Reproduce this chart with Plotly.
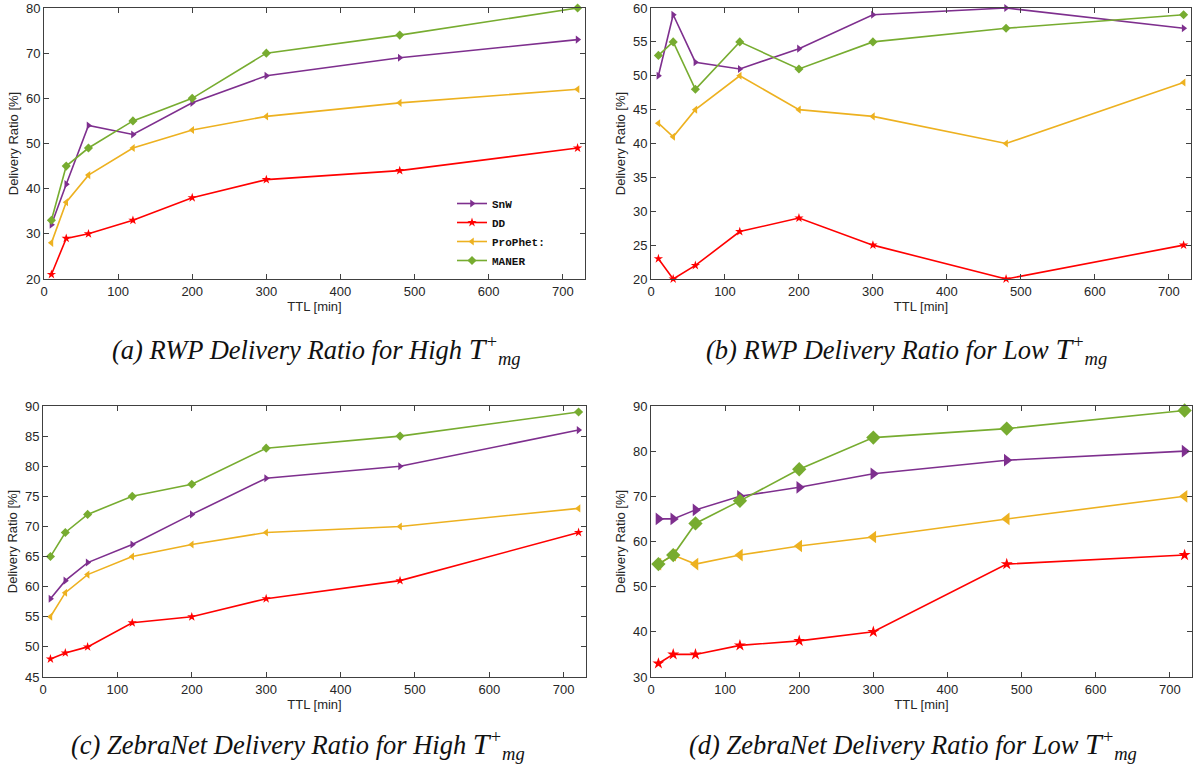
import plotly.graph_objects as go

W, H = 1196, 764
TTL = [10, 30, 60, 120, 200, 300, 480, 720]
SERIES = ["SnW", "DD", "ProPhet:", "MANER"]

# (a) RWP high
a_snw = [32, 41, 54, 52, 59, 65, 69, 73]
a_dd = [21, 29, 30, 33, 38, 42, 44, 49]
a_pro = [28, 37, 43, 49, 53, 56, 59, 62]
a_maner = [33, 45, 49, 55, 60, 70, 74, 80]
# (b) RWP low
b_snw = [50, 59, 52, 51, 54, 59, 60, 57]
b_dd = [23, 20, 22, 27, 29, 25, 20, 25]
b_pro = [43, 41, 45, 50, 45, 44, 40, 49]
b_maner = [53, 55, 48, 55, 51, 55, 57, 59]
# (c) ZebraNet high
c_snw = [58, 61, 64, 67, 72, 78, 80, 86]
c_dd = [48, 49, 50, 54, 55, 58, 61, 69]
c_pro = [55, 59, 62, 65, 67, 69, 70, 73]
c_maner = [65, 69, 72, 75, 77, 83, 85, 89]
# (d) ZebraNet low
d_snw = [65, 65, 67, 70, 72, 75, 78, 80]
d_dd = [33, 35, 35, 37, 38, 40, 55, 57]
d_pro = [55, 57, 55, 57, 59, 61, 65, 70]
d_maner = [55, 57, 64, 69, 76, 83, 85, 89]

Y_RANGES = [[20, 80], [20, 60], [45, 90], [30, 90]]
Y_DTICK = [10, 5, 5, 10]
CAPTIONS = [
    "(a) RWP Delivery Ratio for High ",
    "(b) RWP Delivery Ratio for Low ",
    "(c) ZebraNet Delivery Ratio for High ",
    "(d) ZebraNet Delivery Ratio for Low ",
]

COLORS = ["#7E2F8E", "#FF0000", "#EDB120", "#77AC30"]
SYMBOLS = ["triangle-right", "star", "triangle-left", "diamond"]
MSIZES = [[7, 7, 7, 7], [7, 7, 7, 7], [7, 7, 7, 7], [11, 9, 11, 11]]

panels = [
    [a_snw, a_dd, a_pro, a_maner],
    [b_snw, b_dd, b_pro, b_maner],
    [c_snw, c_dd, c_pro, c_maner],
    [d_snw, d_dd, d_pro, d_maner],
]

# pixel boxes: left, right, top, bottom
boxes = [(44, 585, 8, 279), (651, 1191, 8, 279), (43, 586, 406, 677), (651, 1192, 406, 677)]

FONT = "Liberation Sans, Arial"
TXT = "#262626"
AX = "#404040"

fig = go.Figure()
layout = {}
for i, (data, box) in enumerate(zip(panels, boxes)):
    n = "" if i == 0 else str(i + 1)
    for j, ys in enumerate(data):
        fig.add_trace(go.Scatter(
            x=TTL, y=ys, mode="lines+markers", name=SERIES[j],
            xaxis="x" + n, yaxis="y" + n,
            line=dict(color=COLORS[j], width=1.6),
            marker=dict(symbol=SYMBOLS[j], size=MSIZES[i][j], color=COLORS[j]),
            showlegend=(i == 0), cliponaxis=False,
        ))
    l, r, t, b = box
    layout["xaxis" + n] = dict(
        domain=[l / W, r / W], anchor="y" + n, range=[0, 730], automargin=False,
        tickvals=list(range(0, 800, 100)), showgrid=False, zeroline=False,
        showline=True, mirror="ticks", linecolor=AX, linewidth=1,
        ticks="inside", ticklen=5, tickcolor=AX,
        tickfont=dict(family=FONT, size=13, color=TXT),
        title=dict(text="TTL [min]", standoff=0, font=dict(family=FONT, size=13, color=TXT)),
    )
    layout["yaxis" + n] = dict(
        domain=[1 - b / H, 1 - t / H], anchor="x" + n, range=Y_RANGES[i], automargin=False,
        dtick=Y_DTICK[i], showgrid=False, zeroline=False,
        showline=True, mirror="ticks", linecolor=AX, linewidth=1,
        ticks="inside", ticklen=5, tickcolor=AX,
        tickfont=dict(family=FONT, size=13, color=TXT),
        title=dict(text="Delivery Ratio [%]", standoff=4, font=dict(family=FONT, size=13, color=TXT)),
    )

annotations = []
cap_pos = [(316, 350), (906, 350), (298, 745), (913, 745)]
for cap, (cx, cy) in zip(CAPTIONS, cap_pos):
    annotations.append(dict(
        text="<i>" + cap + "<span style='font-size:30px'>T</span><sup>+</sup><sub>mg</sub></i>",
        x=cx / W, y=1 - cy / H, xref="paper", yref="paper",
        xanchor="center", yanchor="middle", showarrow=False,
        font=dict(family="Liberation Serif, Times New Roman", size=26.5, color="#111111"),
    ))

fig.update_layout(
    width=W, height=H, margin=dict(l=0, r=0, t=0, b=0),
    paper_bgcolor="white", plot_bgcolor="white",
    annotations=annotations,
    legend=dict(x=452 / W, y=1 - 189 / H, xanchor="left", yanchor="top",
                bgcolor="rgba(0,0,0,0)", tracegroupgap=0, itemwidth=30,
                font=dict(family="Liberation Mono, Courier New", size=11, color="#111111", weight="bold")),
    **layout,
)
fig.write_html("out.html", config={"displayModeBar": False},
               post_script="document.body.style.margin='0';document.body.style.overflow='hidden';")
